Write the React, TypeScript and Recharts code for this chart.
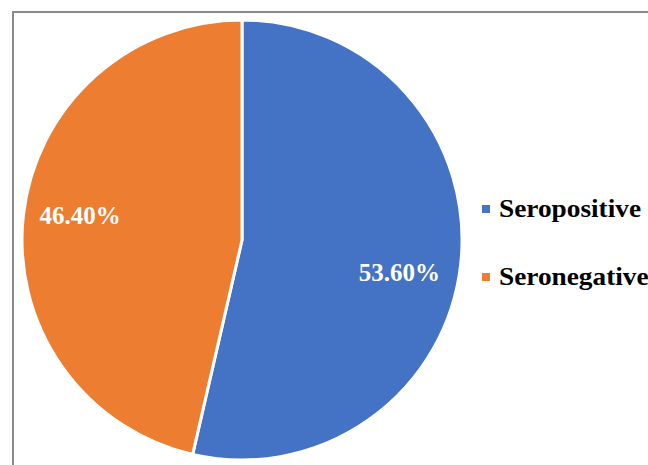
import { PieChart, Pie, Cell, Legend } from 'recharts';

const categories = ['Seropositive', 'Seronegative'];
const shares = [53.6, 46.4];
const colors = ['#4472C4', '#ED7D31'];

const data = categories.map((name, i) => ({ name, value: shares[i] }));

const RADIAN = Math.PI / 180;
// Excel's "best fit" placement puts the labels a little off the radial line
const labelNudge = [15, -6];
const serif = '"Liberation Serif", "Times New Roman", serif';

function renderLabel(props: any) {
  const { cx, cy, midAngle, outerRadius, index, value } = props;
  const r = outerRadius * (index === 0 ? 0.72 : 0.74);
  const x = cx + r * Math.cos(-midAngle * RADIAN);
  const y = cy + r * Math.sin(-midAngle * RADIAN) + labelNudge[index];
  return (
    <text
      x={x}
      y={y}
      textAnchor="middle"
      dominantBaseline="central"
      fill="#ffffff"
      fontFamily={serif}
      fontWeight="bold"
      fontSize={25}
    >
      {value.toFixed(2)}%
    </text>
  );
}

function renderLegend() {
  return (
    <div>
      {categories.map((name, i) => (
        <div key={name} style={{ display: 'flex', alignItems: 'center', height: 30, marginBottom: i === 0 ? 38 : 0 }}>
          <div style={{ width: 8, height: 8, background: colors[i], marginRight: 9 }} />
          <span
            style={{
              display: 'inline-block',
              fontFamily: serif,
              fontWeight: 'bold',
              fontSize: 26,
              lineHeight: '30px',
              color: '#000',
              transform: 'scaleX(1.05)',
              transformOrigin: 'left center',
              whiteSpace: 'nowrap',
            }}
          >
            {name}
          </span>
        </div>
      ))}
    </div>
  );
}

export default function App() {
  return (
    <div style={{ position: 'absolute', left: 0, top: 0, width: 648, height: 465, overflow: 'hidden', background: '#fff' }}>
      <div
        style={{
          position: 'absolute',
          left: 12,
          top: 11,
          width: 700,
          height: 520,
          border: '2px solid #8a8a8a',
        }}
      />
      <div style={{ position: 'absolute', left: 0, top: 0 }}>
        <PieChart width={648} height={465} margin={{ top: 0, right: 0, bottom: 0, left: 0 }}>
          <Pie
            data={data}
            dataKey="value"
            nameKey="name"
            cx={242}
            cy={240}
            outerRadius={220}
            startAngle={90}
            endAngle={-270}
            stroke="#ffffff"
            strokeWidth={3}
            label={renderLabel}
            labelLine={false}
            isAnimationActive={false}
          >
            {data.map((d, i) => (
              <Cell key={d.name} fill={colors[i]} />
            ))}
          </Pie>
          <Legend
            layout="vertical"
            verticalAlign="middle"
            align="right"
            content={renderLegend}
            wrapperStyle={{ left: 482, top: 194, right: 'auto', width: 180 }}
          />
        </PieChart>
      </div>
    </div>
  );
}
